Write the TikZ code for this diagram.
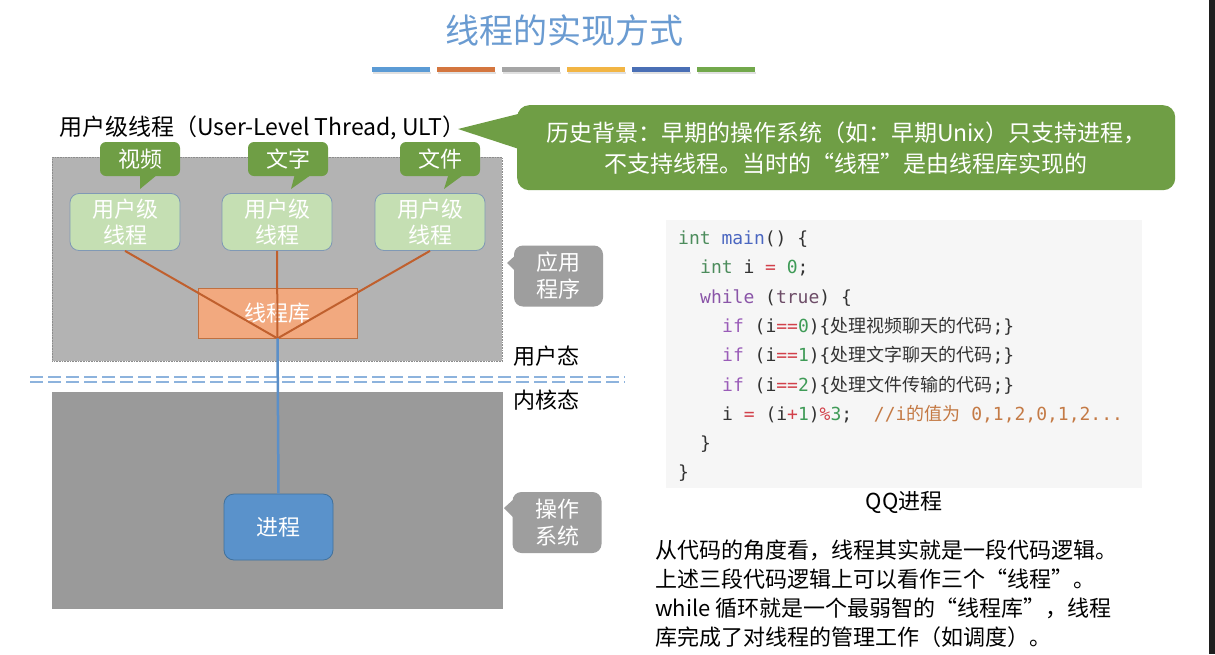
\documentclass[tikz,border=0pt]{standalone}
\usepackage{fontspec}
\setmainfont{Noto Sans CJK SC}
\newfontfamily\codefont{DejaVu Sans Mono}
\newfontfamily\cjkf{Noto Sans CJK SC}
\usetikzlibrary{calc}
\definecolor{titleblue}{HTML}{6A9BD1}
\definecolor{barA}{HTML}{5B9BD5}
\definecolor{barB}{HTML}{D4763F}
\definecolor{barC}{HTML}{A5A5A5}
\definecolor{barD}{HTML}{F2B544}
\definecolor{barE}{HTML}{4A6FB5}
\definecolor{barF}{HTML}{72A84B}
\definecolor{appgray}{HTML}{B3B3B3}
\definecolor{osgray}{HTML}{9A9A9A}
\definecolor{sidegray}{HTML}{9E9E9E}
\definecolor{calgreen}{HTML}{6F9E45}
\definecolor{lightgreen}{HTML}{C5DFB3}
\definecolor{bordgreen}{HTML}{8099B5}
\definecolor{libfill}{HTML}{F2A97F}
\definecolor{libborder}{HTML}{C07040}
\definecolor{libline}{HTML}{C0602E}
\definecolor{procblue}{HTML}{5A92CB}
\definecolor{procborder}{HTML}{41719C}
\definecolor{linkblue}{HTML}{5B8FC8}
\definecolor{dashblue}{HTML}{8DB3DD}
\definecolor{codebg}{HTML}{F6F6F6}
\definecolor{cint}{HTML}{4C8C5C}
\definecolor{cmain}{HTML}{4B67C1}
\definecolor{cop}{HTML}{D2404A}
\definecolor{cnum}{HTML}{3F9B57}
\definecolor{cwhile}{HTML}{8A55A8}
\definecolor{ctrue}{HTML}{6D4C67}
\definecolor{cif}{HTML}{9A5CB8}
\definecolor{ccom}{HTML}{C47A45}
\definecolor{cpl}{HTML}{333333}
\newcommand\Ck[2]{\textcolor{#1}{#2}}
\tikzset{
  ulbox/.style={draw=bordgreen, line width=0.8pt, fill=lightgreen, rounded corners=9pt,
    minimum width=110pt, minimum height=57pt, text=white, align=center,
    font=\fontsize{22}{26}\selectfont, inner sep=0pt},
  tagbox/.style={fill=calgreen, rounded corners=6pt, minimum width=80pt, minimum height=34pt,
    text=white, font=\fontsize{22}{26}\selectfont, inner sep=0pt},
  sidebox/.style={fill=sidegray, rounded corners=9pt, minimum width=89pt, minimum height=61pt,
    text=white, align=center, font=\fontsize{22}{27}\selectfont, inner sep=0pt},
  codeln/.style={anchor=base west, inner sep=0pt, text=cpl, font=\codefont\fontsize{18}{20}\selectfont},
  paraln/.style={anchor=base west, inner sep=0pt, font=\fontsize{22}{26}\selectfont},
  libedge/.style={draw=libline, line width=2pt},
}
\begin{document}
\begin{tikzpicture}[x=1pt,y=-1pt]
\useasboundingbox (0,0) rectangle (1215,654);
\fill[white] (0,0) rectangle (1215,654);
\fill[black!88] (1209,0) rectangle (1215,654);

% title and bars
\node[font=\fontsize{34}{40}\selectfont, text=titleblue] (title) at (564,31) {线程的实现方式};
\foreach \c [count=\i from 0] in {barA,barB,barC,barD,barE,barF}{
  \fill[black!12] (372+65*\i+1,71.5) rectangle ++(58,2);
  \fill[\c] (372+65*\i,66.5) rectangle ++(58,5);
}

% heading
\node[anchor=west, inner sep=0pt, font=\fontsize{23}{26}\selectfont] (ulth) at (59,128) {用户级线程（User-Level Thread, ULT）};

% big green callout
\fill[calgreen] (458,129) -- (522,113) -- (522,150) -- cycle;
\node[fill=calgreen, rounded corners=12pt, minimum width=658pt, minimum height=85pt,
  anchor=north west, text=white, align=center, inner sep=0pt,
  font=\fontsize{23}{31}\selectfont] (hist) at (517,105)
  {历史背景：早期的操作系统（如：早期Unix）只支持进程，\\不支持线程。当时的“线程”是由线程库实现的};

% application area
\node[draw=black!45, densely dotted, line width=0.6pt, fill=appgray, minimum width=450pt,
  minimum height=204pt, anchor=north west, inner sep=0pt] (app) at (52,157) {};
% OS area
\node[draw=black!40, line width=0.6pt, fill=osgray, minimum width=450pt,
  minimum height=216pt, anchor=north west, inner sep=0pt] (os) at (52,392) {};

% tags with pointers
\fill[calgreen] (140,170) -- (140,189) -- (163,170) -- cycle;
\node[tagbox] (tv) at (140,159) {视频};
\fill[calgreen] (296,170) -- (291,189) -- (318,170) -- cycle;
\node[tagbox] (tt) at (288,159) {文字};
\fill[calgreen] (450,170) -- (444,189) -- (470,170) -- cycle;
\node[tagbox] (tf) at (440,159) {文件};

% user level threads
\node[ulbox] (u1) at (125,222) {用户级\\线程};
\node[ulbox] (u2) at (277,222) {用户级\\线程};
\node[ulbox] (u3) at (430,222) {用户级\\线程};

% thread library
\node[draw=libborder, line width=0.8pt, fill=libfill, minimum width=159pt, minimum height=50pt,
  inner sep=0pt, text=white, font=\fontsize{22}{26}\selectfont] (lib) at (277.5,313) {线程库};
\draw[libedge] (u1.south) -- (lib.south);
\draw[libedge] (u2.south) -- (lib.south);
\draw[libedge] (u3.south) -- (lib.south);

% side labels
\fill[sidegray] (507,263) -- (518,253) -- (518,274) -- cycle;
\node[sidebox] (appl) at (558.5,276) {应用\\程序};
\fill[sidegray] (504,508) -- (515,498) -- (515,519) -- cycle;
\node[sidebox] (osl) at (557,522.5) {操作\\系统};

\node[anchor=west, inner sep=0pt, font=\fontsize{22}{26}\selectfont] (ustate) at (513,356) {用户态};
\node[anchor=west, inner sep=0pt, font=\fontsize{22}{26}\selectfont] (kstate) at (513,400) {内核态};

% mode boundary
\coordinate (bl) at (30,377);
\coordinate (br) at (625,377);
\draw[dashblue, line width=2pt, dash pattern=on 13pt off 5pt] (bl) -- (br);
\draw[dashblue, line width=2pt, dash pattern=on 13pt off 5pt] ($(bl)+(0,5)$) -- ($(br)+(0,5)$);

% process
\node[draw=procborder, line width=0.8pt, fill=procblue, rounded corners=10pt, minimum width=109pt,
  minimum height=66pt, inner sep=0pt, text=white, font=\fontsize{22}{26}\selectfont] (proc) at (278.5,527) {进程};
\draw[linkblue, line width=2.5pt] (lib.south) -- (proc.north);

% code block
\node[fill=codebg, minimum width=476pt, minimum height=268pt, anchor=north west, inner sep=0pt] (code) at (666,220) {};
\node[codeln] (c1) at (678,244.5) {\Ck{cint}{int} \Ck{cmain}{main}() \{};
\node[codeln] (c2) at (700,273.8) {\Ck{cint}{int} i \Ck{cop}{=} \Ck{cnum}{0};};
\node[codeln] (c3) at (700,303.1) {\Ck{cwhile}{while} (\Ck{ctrue}{true}) \{};
\node[codeln] (c4) at (722,332.4) {\Ck{cif}{if} (i\Ck{cop}{==}\Ck{cnum}{0})\{{\cjkf 处理视频聊天的代码};\}};
\node[codeln] (c5) at (722,361.7) {\Ck{cif}{if} (i\Ck{cop}{==}\Ck{cnum}{1})\{{\cjkf 处理文字聊天的代码};\}};
\node[codeln] (c6) at (722,391.0) {\Ck{cif}{if} (i\Ck{cop}{==}\Ck{cnum}{2})\{{\cjkf 处理文件传输的代码};\}};
\node[codeln] (c7) at (722,420.3) {i \Ck{cop}{=} (i\Ck{cop}{+}\Ck{cnum}{1})\Ck{cop}{\%}\Ck{cnum}{3};\ \ \Ck{ccom}{//i{\cjkf 的值为} 0,1,2,0,1,2...}};
\node[codeln] (c8) at (700,449.6) {\}};
\node[codeln] (c9) at (678,478.5) {\}};

\node[font=\fontsize{22}{26}\selectfont] (qq) at (904,502) {QQ进程};

% explanation
\node[paraln] (p1) at (655,558) {从代码的角度看，线程其实就是一段代码逻辑。};
\node[paraln] (p2) at (655,587) {上述三段代码逻辑上可以看作三个“线程”。};
\node[paraln] (p3) at (655,616) {while 循环就是一个最弱智的“线程库”，线程};
\node[paraln] (p4) at (655,645) {库完成了对线程的管理工作（如调度）。};
\end{tikzpicture}
\end{document}
